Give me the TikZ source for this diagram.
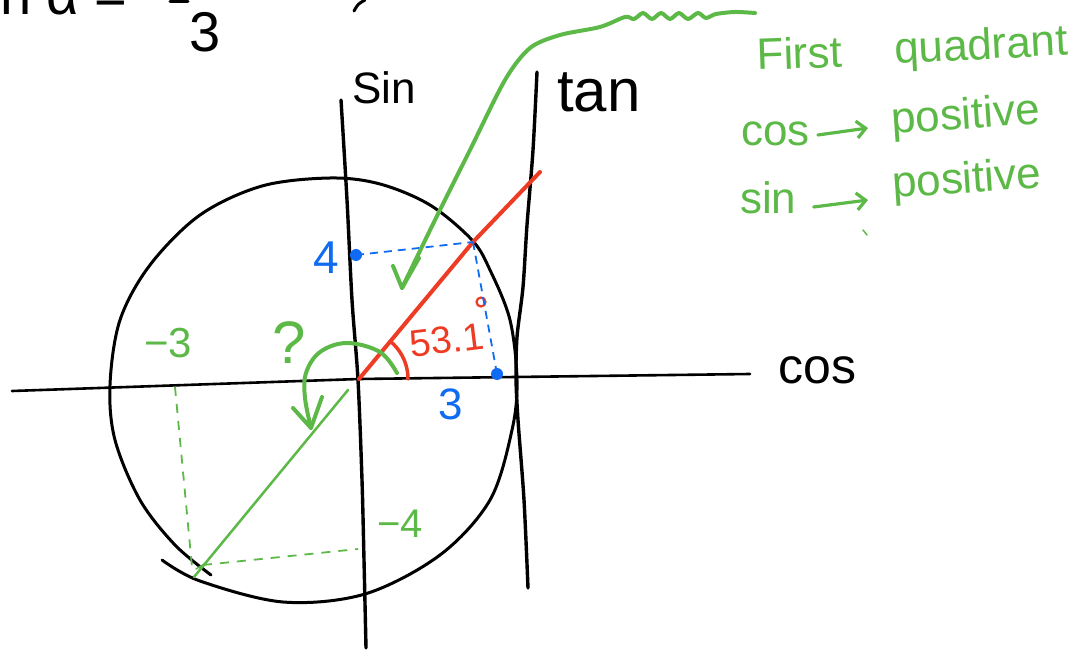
\documentclass[tikz,border=0pt]{standalone}
\usepackage{fontspec}
\setmainfont{Liberation Sans}
\usetikzlibrary{arrows.meta}
\definecolor{hgreen}{HTML}{5DB947}
\definecolor{hred}{HTML}{EE3B24}
\definecolor{hblue}{HTML}{0F6BF2}
\begin{document}
\begin{tikzpicture}[x=1pt,y=-1pt,
  ink/.style={line width=3pt,line cap=round,line join=round},
  rink/.style={hred,line width=4pt,line cap=round,line join=round},
  gink/.style={hgreen,line width=4pt,line cap=round,line join=round},
  gthin/.style={hgreen,line width=2.5pt,line cap=round},
  gdash/.style={hgreen,line width=1.8pt,dash pattern=on 9pt off 8pt},
  bdash/.style={hblue,line width=1.8pt,dash pattern=on 8pt off 6pt},
  garrow/.style={hgreen,line width=3.2pt,line cap=round,-{Straight Barb[length=9pt,width=17pt,line width=3.2pt]}},
  lbl/.style={inner sep=0pt},
  fs/.style={font=\fontsize{#1}{#1}\selectfont}]
\useasboundingbox (0,0) rectangle (1081,652);
\fill[white] (0,0) rectangle (1081,652);

% key points
\coordinate (O) at (359,379);
\coordinate (P) at (473,242);
\coordinate (R) at (540,172);
\coordinate (S4) at (356,255);
\coordinate (C3) at (497,374);
\coordinate (Q) at (194,577);
\coordinate (Qx) at (175,387);
\coordinate (Qxb) at (192,567);
\coordinate (Qyb) at (203,565);
\coordinate (Qy) at (358,549);

% top-left cut-off formula
\node[lbl,fs=56,anchor=base west] (frm) at (0,15) {n α =};
\draw[ink] (170,2) -- (188,2);
\node[lbl,fs=56] (den) at (205,32) {3};
\draw[ink] (365,0) .. controls (358,4) .. (354,11);

% axes
\draw[line width=2.6pt,line cap=round] (12,391) -- (O) -- (750,374);
\node[lbl,fs=50,anchor=base west] (cos) at (778,383) {cos};
\draw[ink,line width=3.4pt] plot[smooth] coordinates {(341,100) (347,200) (352,300) (358,380) (362,480) (364,560) (366,648)};
\node[lbl,fs=44,anchor=base west] (sin) at (352,104) {Sin};
\draw[ink,line width=3.4pt] plot[smooth] coordinates {(537,72) (533,150) (527,225) (523,287) (517,337) (516,378) (518,420) (524,500) (528,588)};
\node[lbl,fs=60,anchor=base west] (tan) at (557,112) {tan};

% circle
\draw[ink] plot[smooth,tension=0.55] coordinates {(162,560) (200,581) (283,602) (365,594) (440,555) (490,500) (512,430) (517,380) (510,320) (490,270) (472,240) (430,205) (380,184) (330,178) (262,186) (200,215) (150,265) (120,320) (110,385) (115,440) (140,500) (175,545) (211,575)};

% red angle
\draw[rink] (O) -- (P) -- (R);
\draw[rink,line width=3.5pt] plot[domain=0:48,samples=20] ({359+49*cos(\x)},{379-49*sin(\x)});
\node[lbl,fs=38,text=hred,rotate=7] (ang) at (447,340) {53.1};
\draw[hred,line width=2.2pt] (481,302) circle (4.5pt);

% blue projections
\draw[bdash] (S4) -- (P);
\draw[bdash] (P) -- (C3);
\fill[hblue] (S4) circle (6pt);
\fill[hblue] (C3) circle (6pt);
\node[lbl,fs=46,text=hblue] (four) at (326,258) {4};
\node[lbl,fs=44,text=hblue] (three) at (451,404) {3};

% green: third-quadrant point
\draw[gthin] (348,390) -- (Q);
\draw[gdash] (Qx) -- (Qxb);
\draw[gdash] (Qyb) -- (Qy);
\draw[gthin,line width=1.5pt] (196,569) -- (206,563);
\node[lbl,fs=42,text=hgreen] (m3) at (168,343) {−3};
\node[lbl,fs=40,text=hgreen] (m4) at (400,524) {−4};
\node[lbl,fs=60,text=hgreen] (q) at (289,343) {?};

% green curved arrow
\draw[gink] plot[smooth,tension=0.6] coordinates {(397,373) (380,352) (347,343) (320,352) (306,373) (305,398) (311,428)};
\draw[gink] (293,408) -- (311,428) -- (322,397);

% green arrow from top
\draw[gink] plot[smooth,tension=0.5] coordinates {(755,13) (735,12) (716,14) (706,18) (698,13) (688,19) (679,13) (670,19) (661,13) (652,19) (643,13) (634,19) (625,17) (600,27) (560,35) (530,48) (505,80) (470,150) (435,220) (402,288)};
\draw[gink] (393,266) -- (402,288) -- (419,258);

% green notes
\node[lbl,fs=44,text=hgreen,anchor=base west,rotate=2] (first) at (757,70) {First};
\node[lbl,fs=44,text=hgreen,anchor=base west,rotate=3] (quad) at (895,64) {quadrant};
\node[lbl,fs=44,text=hgreen,anchor=base west] (ccos) at (741,146) {cos};
\node[lbl,fs=44,text=hgreen,anchor=base west,rotate=4] (cpos) at (892,134) {positive};
\draw[garrow] ([xshift=8pt,yshift=11pt]ccos.base east) -- ([xshift=-24pt,yshift=6pt]cpos.base west);
\node[lbl,fs=44,text=hgreen,anchor=base west] (csin) at (740,214) {sin};
\node[lbl,fs=44,text=hgreen,anchor=base west,rotate=4] (spos) at (893,198) {positive};
\draw[garrow] ([xshift=17pt,yshift=7pt]csin.base east) -- ([xshift=-25pt,yshift=-2pt]spos.base west);
\draw[hgreen,line width=1.5pt,line cap=round] (863,230) -- (867,235);
\end{tikzpicture}
\end{document}
